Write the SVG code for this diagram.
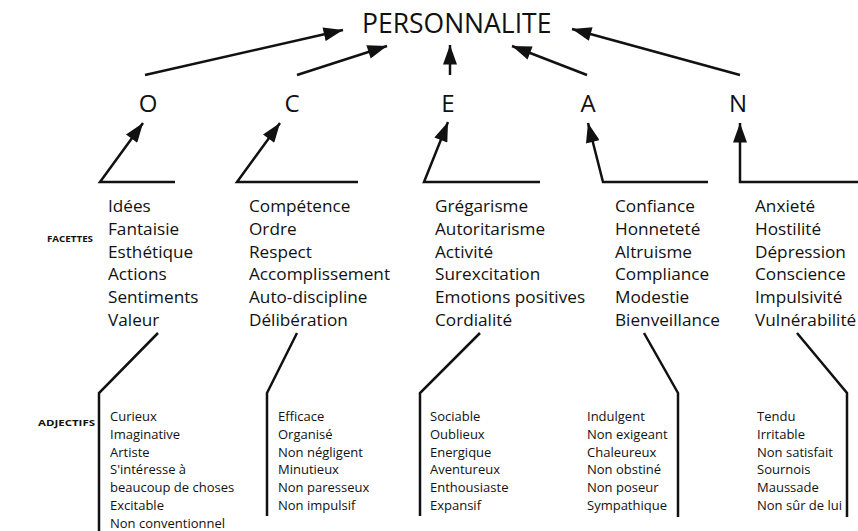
<svg xmlns="http://www.w3.org/2000/svg" width="858" height="531" viewBox="0 0 858 531">
<style>
text{font-family:"Open Sans","Noto Sans","Liberation Sans",sans-serif;fill:#111}
.title{font-size:26.5px}
.factor{font-size:24px}
.facet{font-size:17.2px;font-weight:500}
.adj{font-size:13px;font-weight:500}
.lab{font-size:9.5px;font-weight:bold}
.c{fill:none;stroke:#111;stroke-width:2.5}
</style>
<defs>
<marker id="ah" markerUnits="userSpaceOnUse" markerWidth="20" markerHeight="14" refX="18" refY="6.5" orient="auto" viewBox="0 0 18 13">
<path d="M0,0 L18,6.5 L0,13 Z" fill="#111"/>
</marker>
</defs>
<rect width="858" height="531" fill="#fff"/>
<g id="connectors">
<line class="c" x1="145" y1="75" x2="343" y2="30" marker-end="url(#ah)"/>
<line class="c" x1="297" y1="75" x2="387" y2="46" marker-end="url(#ah)"/>
<line class="c" x1="450" y1="75" x2="450" y2="45" marker-end="url(#ah)"/>
<line class="c" x1="587" y1="75" x2="512" y2="46" marker-end="url(#ah)"/>
<line class="c" x1="740" y1="75" x2="572" y2="29" marker-end="url(#ah)"/>
<polyline class="c" points="175,182 100,182 143,123" marker-end="url(#ah)"/>
<polyline class="c" points="358,182 237,182 280,123" marker-end="url(#ah)"/>
<polyline class="c" points="540,182 424,182 448,122" marker-end="url(#ah)"/>
<polyline class="c" points="708,182 603,182 588,123" marker-end="url(#ah)"/>
<polyline class="c" points="858,182 740,182 740,123" marker-end="url(#ah)"/>
<polyline class="c" points="158,333 99,393 99,531"/>
<polyline class="c" points="297,333 267,393 267,516"/>
<polyline class="c" points="480,333 420,393 420,516"/>
<polyline class="c" points="644,333 678,393 678,517"/>
<polyline class="c" points="797,333 847,393 847,517"/>
</g>
<g id="personnalite"><text class="title" x="362" y="33">PERSONNALITE</text></g>
<g id="O"><text class="factor" x="148" y="112" text-anchor="middle">O</text></g>
<g id="C"><text class="factor" x="292" y="112" text-anchor="middle">C</text></g>
<g id="E"><text class="factor" x="448" y="112" text-anchor="middle">E</text></g>
<g id="A"><text class="factor" x="588" y="112" text-anchor="middle">A</text></g>
<g id="N"><text class="factor" x="738" y="112" text-anchor="middle">N</text></g>
<g id="labels">
<text class="lab" x="47" y="242" textLength="46" lengthAdjust="spacingAndGlyphs">FACETTES</text>
<text class="lab" x="38" y="426" textLength="57" lengthAdjust="spacingAndGlyphs">ADJECTIFS</text>
</g>
<g id="facets-O">
<text class="facet" x="108" y="212">Idées</text>
<text class="facet" x="108" y="234.8">Fantaisie</text>
<text class="facet" x="108" y="257.6">Esthétique</text>
<text class="facet" x="108" y="280.4">Actions</text>
<text class="facet" x="108" y="303.2">Sentiments</text>
<text class="facet" x="108" y="326">Valeur</text>
</g>
<g id="facets-C">
<text class="facet" x="249" y="212">Compétence</text>
<text class="facet" x="249" y="234.8">Ordre</text>
<text class="facet" x="249" y="257.6">Respect</text>
<text class="facet" x="249" y="280.4">Accomplissement</text>
<text class="facet" x="249" y="303.2">Auto-discipline</text>
<text class="facet" x="249" y="326">Délibération</text>
</g>
<g id="facets-E">
<text class="facet" x="435" y="212">Grégarisme</text>
<text class="facet" x="435" y="234.8">Autoritarisme</text>
<text class="facet" x="435" y="257.6">Activité</text>
<text class="facet" x="435" y="280.4">Surexcitation</text>
<text class="facet" x="435" y="303.2">Emotions positives</text>
<text class="facet" x="435" y="326">Cordialité</text>
</g>
<g id="facets-A">
<text class="facet" x="615" y="212">Confiance</text>
<text class="facet" x="615" y="234.8">Honneteté</text>
<text class="facet" x="615" y="257.6">Altruisme</text>
<text class="facet" x="615" y="280.4">Compliance</text>
<text class="facet" x="615" y="303.2">Modestie</text>
<text class="facet" x="615" y="326">Bienveillance</text>
</g>
<g id="facets-N">
<text class="facet" x="755" y="212">Anxieté</text>
<text class="facet" x="755" y="234.8">Hostilité</text>
<text class="facet" x="755" y="257.6">Dépression</text>
<text class="facet" x="755" y="280.4">Conscience</text>
<text class="facet" x="755" y="303.2">Impulsivité</text>
<text class="facet" x="755" y="326">Vulnérabilité</text>
</g>
<g id="adj-O">
<text class="adj" x="110" y="421">Curieux</text>
<text class="adj" x="110" y="438.8">Imaginative</text>
<text class="adj" x="110" y="456.6">Artiste</text>
<text class="adj" x="110" y="474.4">S'intéresse à</text>
<text class="adj" x="110" y="492.2">beaucoup de choses</text>
<text class="adj" x="110" y="510">Excitable</text>
<text class="adj" x="110" y="527.8">Non conventionnel</text>
</g>
<g id="adj-C">
<text class="adj" x="278" y="421">Efficace</text>
<text class="adj" x="278" y="438.8">Organisé</text>
<text class="adj" x="278" y="456.6">Non négligent</text>
<text class="adj" x="278" y="474.4">Minutieux</text>
<text class="adj" x="278" y="492.2">Non paresseux</text>
<text class="adj" x="278" y="510">Non impulsif</text>
</g>
<g id="adj-E">
<text class="adj" x="430" y="421">Sociable</text>
<text class="adj" x="430" y="438.8">Oublieux</text>
<text class="adj" x="430" y="456.6">Energique</text>
<text class="adj" x="430" y="474.4">Aventureux</text>
<text class="adj" x="430" y="492.2">Enthousiaste</text>
<text class="adj" x="430" y="510">Expansif</text>
</g>
<g id="adj-A">
<text class="adj" x="587" y="421">Indulgent</text>
<text class="adj" x="587" y="438.8">Non exigeant</text>
<text class="adj" x="587" y="456.6">Chaleureux</text>
<text class="adj" x="587" y="474.4">Non obstiné</text>
<text class="adj" x="587" y="492.2">Non poseur</text>
<text class="adj" x="587" y="510">Sympathique</text>
</g>
<g id="adj-N">
<text class="adj" x="757" y="421">Tendu</text>
<text class="adj" x="757" y="438.8">Irritable</text>
<text class="adj" x="757" y="456.6">Non satisfait</text>
<text class="adj" x="757" y="474.4">Sournois</text>
<text class="adj" x="757" y="492.2">Maussade</text>
<text class="adj" x="757" y="510">Non sûr de lui</text>
</g>
</svg>
